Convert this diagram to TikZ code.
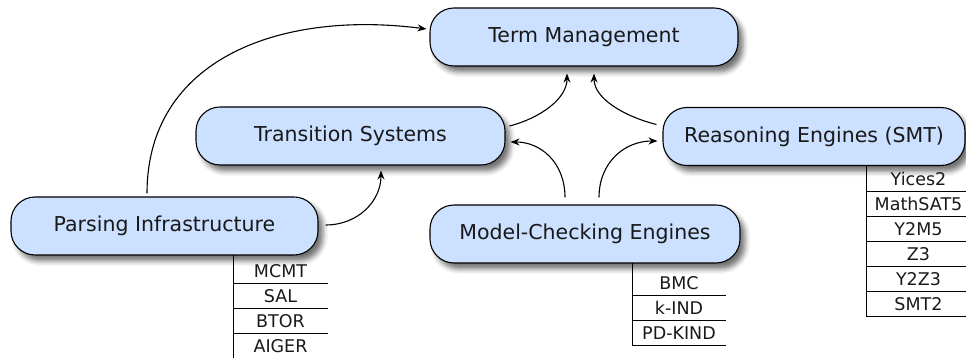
\documentclass[tikz,border=0pt]{standalone}
\usepackage{fontspec}
\setmainfont{DejaVu Sans}
\usetikzlibrary{shadows.blur,arrows.meta,calc}
\definecolor{nodefill}{RGB}{204,224,255}
\definecolor{inkc}{RGB}{25,25,25}
\begin{document}
\begin{tikzpicture}[x=1pt,y=1pt,
  module/.style={draw=black, line width=1.1pt, fill=nodefill, rounded corners=24pt,
    minimum height=58pt, inner sep=0pt, text height=14pt, text depth=2pt, text=inkc,
    font=\fontsize{20.5}{24}\selectfont,
    blur shadow={shadow xshift=5pt, shadow yshift=-6pt, shadow blur radius=5pt, shadow opacity=55}},
  cell/.style={anchor=base, inner sep=0pt, text=inkc, font=\fontsize{17.5}{20}\selectfont},
  tab/.style={line width=0.9pt},
  arr/.style={line width=1.1pt, -{Stealth[length=9pt,width=7pt,inset=3pt]}}]
\useasboundingbox (0,0) rectangle (966,358);

% modules
\node[module, minimum width=308pt] (tm) at (584,321) {Term Management};
\node[module, minimum width=309pt] (ts) at (350.5,222) {Transition Systems};
\node[module, minimum width=302pt] (re) at (814,221.5) {Reasoning Engines (SMT)};
\node[module, minimum width=307pt] (pi) at (164.5,132) {Parsing Infrastructure};
\node[module, minimum width=310pt] (mc) at (585,124) {Model-Checking Engines};

% parsing table
\draw[tab] (233,103) -- (233,0);
\draw[tab] (233,75) -- (328,75);
\draw[tab] (233,50) -- (328,50);
\draw[tab] (233,25) -- (328,25);
\node[cell] (p1) at (280.5,80.5) {MCMT};
\node[cell] (p2) at (280.5,55.5) {SAL};
\node[cell] (p3) at (280.5,30.5) {BTOR};
\node[cell] (p4) at (280.5,5.5) {AIGER};

% model checking table
\draw[tab] (632,95) -- (632,12.5) -- (726,12.5);
\draw[tab] (632,62.5) -- (726,62.5);
\draw[tab] (632,37.5) -- (726,37.5);
\node[cell] (m1) at (679,68) {BMC};
\node[cell] (m2) at (679,43) {k-IND};
\node[cell] (m3) at (679,18) {PD-KIND};

% reasoning table
\draw[tab] (866,192) -- (866,42) -- (966,42);
\foreach \yy in {167,142,117,92,67} \draw[tab] (866,\yy) -- (966,\yy);
\node[cell] (r1) at (918.5,172.5) {Yices2};
\node[cell] (r2) at (918.5,147.5) {MathSAT5};
\node[cell] (r3) at (918.5,122.5) {Y2M5};
\node[cell] (r4) at (918.5,97.5) {Z3};
\node[cell] (r5) at (918.5,72.5) {Y2Z3};
\node[cell] (r6) at (918.5,47.5) {SMT2};

% connectors
\draw[arr] ([xshift=-17.5pt,yshift=3pt]pi.north) .. controls +(0,134) and +(-147,19) .. ([xshift=-3pt,yshift=8pt]tm.west);
\draw[arr] ([xshift=7pt,yshift=1pt]pi.east) .. controls +(33,0) and +(0,-30) .. ([xshift=30.5pt,yshift=-5pt]ts.south);
\draw[arr] ([xshift=4pt,yshift=10pt]ts.east) .. controls +(31,8) and +(0,-25) .. ([xshift=-17pt,yshift=-7pt]tm.south);
\draw[arr] ([xshift=-6pt,yshift=12pt]re.west) .. controls +(-32,8) and +(0,-25) .. ([xshift=10pt,yshift=-7pt]tm.south);
\draw[arr] ([xshift=-20pt,yshift=7pt]mc.north) .. controls +(0,35) and +(30,0) .. ([xshift=5pt,yshift=-6pt]ts.east);
\draw[arr] ([xshift=14pt,yshift=7pt]mc.north) .. controls +(0,35) and +(-33,0) .. ([xshift=-5pt,yshift=-4.5pt]re.west);
\end{tikzpicture}
\end{document}
